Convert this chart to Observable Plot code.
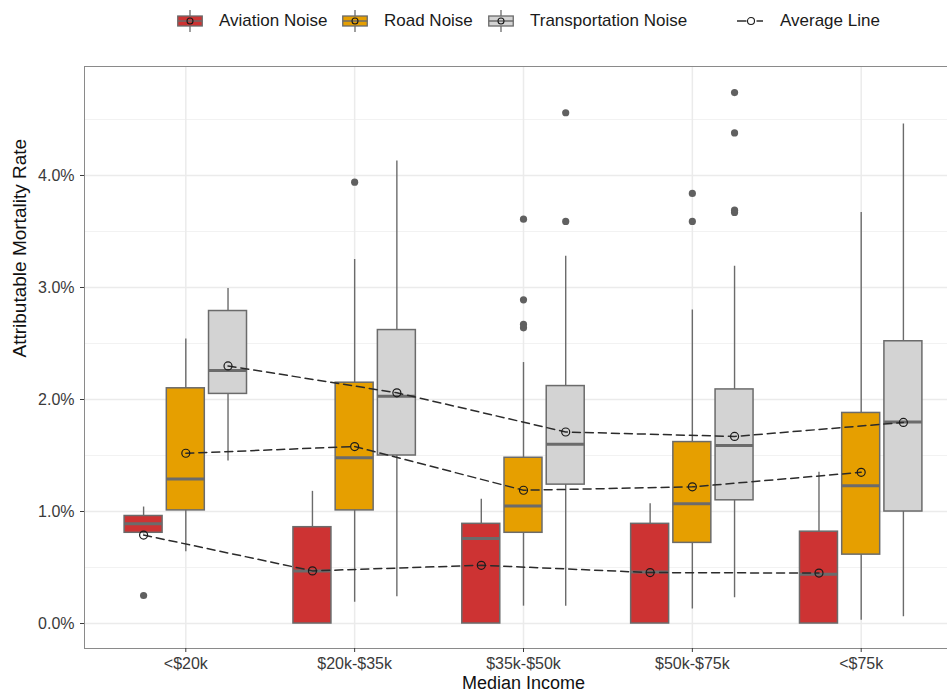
<!DOCTYPE html>
<html>
<head>
<meta charset="utf-8">
<script src="https://cdn.jsdelivr.net/npm/d3@7"></script>
<script src="https://cdn.jsdelivr.net/npm/@observablehq/plot@0.6"></script>
<style>
  html, body { margin: 0; padding: 0; background: #fff; overflow: hidden; }
  #wrap { position: relative; width: 965px; }
  #legend { position: relative; height: 44px; font-family: "Liberation Sans", Arial, Helvetica, sans-serif; font-size: 17px; color: #1a1a1a; }
  #legend .lbl { position: absolute; top: 11px; line-height: 20px; white-space: nowrap; }
  #legend svg { position: absolute; }
</style>
</head>
<body>
<div id="wrap">
  <div id="legend"></div>
  <div id="chart"></div>
</div>
<script>
// ---------- data (in %) ----------
const categories = ["<$20k", "$20k-$35k", "$35k-$50k", "$50k-$75k", "<$75k"];
const seriesNames = ["Aviation Noise", "Road Noise", "Transportation Noise"];
const seriesColors = ["#CD3333", "#E69F00", "#D3D3D3"];

// Aviation Noise
const aviationLow    = [0.80, 0.00, 0.00, 0.00, 0.00];
const aviationQ1     = [0.81, 0.00, 0.00, 0.00, 0.00];
const aviationMedian = [0.89, 0.47, 0.76, 0.46, 0.44];
const aviationQ3     = [0.96, 0.86, 0.89, 0.89, 0.82];
const aviationHigh   = [1.04, 1.18, 1.11, 1.07, 1.35];
const aviationMean   = [0.79, 0.47, 0.52, 0.455, 0.45];
const aviationOutliers = [[0.25], [], [], [], []];

// Road Noise
const roadLow    = [0.64, 0.19, 0.155, 0.13, 0.03];
const roadQ1     = [1.01, 1.01, 0.81, 0.72, 0.615];
const roadMedian = [1.29, 1.48, 1.05, 1.07, 1.23];
const roadQ3     = [2.10, 2.15, 1.48, 1.62, 1.88];
const roadHigh   = [2.54, 3.25, 2.33, 2.80, 3.67];
const roadMean   = [1.52, 1.58, 1.19, 1.22, 1.35];
const roadOutliers = [[], [3.94], [3.61, 2.89, 2.67, 2.64], [3.84, 3.59], []];

// Transportation Noise
const transportLow    = [1.45, 0.24, 0.155, 0.23, 0.06];
const transportQ1     = [2.05, 1.50, 1.24, 1.10, 1.00];
const transportMedian = [2.26, 2.03, 1.60, 1.59, 1.80];
const transportQ3     = [2.79, 2.62, 2.12, 2.09, 2.52];
const transportHigh   = [2.99, 4.13, 3.28, 3.19, 4.46];
const transportMean   = [2.30, 2.06, 1.71, 1.67, 1.795];
const transportOutliers = [[], [], [4.56, 3.59], [4.74, 4.38, 3.69, 3.67], []];

// axis ticks
const yMajorTicks = [0, 1, 2, 3, 4];
const yMinorTicks = [0.5, 1.5, 2.5, 3.5, 4.5];
const legendLineLabel = "Average Line";

// ---------- build tables ----------
const stats = [
  {lo: aviationLow, q1: aviationQ1, med: aviationMedian, q3: aviationQ3, hi: aviationHigh, mean: aviationMean, out: aviationOutliers},
  {lo: roadLow, q1: roadQ1, med: roadMedian, q3: roadQ3, hi: roadHigh, mean: roadMean, out: roadOutliers},
  {lo: transportLow, q1: transportQ1, med: transportMedian, q3: transportQ3, hi: transportHigh, mean: transportMean, out: transportOutliers}
];
const dodge = 0.25, half = 0.1125;
const rows = [];
const outRows = [];
seriesNames.forEach((s, j) => {
  categories.forEach((c, i) => {
    const st = stats[j];
    const x = i + (j - 1) * dodge;
    rows.push({series: s, cat: c, x, lo: st.lo[i], q1: st.q1[i], med: st.med[i], q3: st.q3[i], hi: st.hi[i], mean: st.mean[i]});
    st.out[i].forEach(v => outRows.push({series: s, x, v}));
  });
});

const boxLine = "#6b6b6b";
const font = '"Liberation Sans", Arial, Helvetica, sans-serif';

const chart = Plot.plot({
  width: 965,
  height: 649,
  marginTop: 22,
  marginBottom: 45,
  marginLeft: 84,
  marginRight: 3,
  style: {fontFamily: font, fontSize: "16px", maxWidth: "none", background: "#fff", overflow: "visible"},
  x: {type: "linear", domain: [-0.6, 4.6]},
  y: {domain: [-0.223, 4.973]},
  color: {domain: seriesNames, range: seriesColors},
  marks: [
    Plot.ruleY(yMinorTicks, {stroke: "#F2F2F2", strokeWidth: 1}),
    Plot.ruleY(yMajorTicks, {stroke: "#EBEBEB", strokeWidth: 1.5}),
    Plot.ruleX(categories.map((c, i) => i), {stroke: "#EBEBEB", strokeWidth: 1.5}),
    Plot.ruleX(rows, {x: "x", y1: "lo", y2: "hi", stroke: boxLine, strokeWidth: 1.4}),
    Plot.rect(rows, {x1: d => d.x - half, x2: d => d.x + half, y1: "q1", y2: "q3", fill: "series", stroke: boxLine, strokeWidth: 1.5}),
    Plot.ruleY(rows, {x1: d => d.x - half, x2: d => d.x + half, y: "med", stroke: boxLine, strokeWidth: 3}),
    Plot.dot(outRows, {x: "x", y: "v", r: 3.6, fill: "#606060", stroke: "none"}),
    Plot.line(rows, {x: "x", y: "mean", z: "series", stroke: "#2b2b2b", strokeWidth: 1.5, strokeDasharray: "8,5"}),
    Plot.dot(rows, {x: "x", y: "mean", r: 4, stroke: "#1a1a1a", strokeWidth: 1.2, fill: "none"}),
    Plot.frame({stroke: "#8a8a8a", strokeWidth: 1}),
    Plot.axisX({ticks: [0, 1, 2, 3, 4], tickFormat: i => categories[i], tickSize: 4, tickPadding: 5, fontSize: 16, label: null, color: "#3a3a3a"}),
    Plot.axisY({ticks: yMajorTicks, tickFormat: v => v.toFixed(1) + "%", tickSize: 4, tickPadding: 6, fontSize: 16, label: null, color: "#3a3a3a"}),
    Plot.text(["Median Income"], {text: d => d, frameAnchor: "bottom", lineAnchor: "middle", dy: 35, fontSize: 18, fill: "#111"}),
    Plot.text(["Attributable Mortality Rate"], {text: d => d, frameAnchor: "left", lineAnchor: "middle", dx: -65, rotate: -90, fontSize: 19, fill: "#111"})
  ]
});
document.getElementById("chart").appendChild(chart);

// ---------- legend (HTML above the SVG) ----------
const legend = document.getElementById("legend");
const keyLeft = [177, 342, 488];
const ns = "http://www.w3.org/2000/svg";
function el(tag, attrs, parent) {
  const e = document.createElementNS(ns, tag);
  for (const k in attrs) e.setAttribute(k, attrs[k]);
  parent.appendChild(e);
  return e;
}
seriesNames.forEach((s, j) => {
  const svg = el("svg", {width: 26, height: 22}, legend);
  svg.style.left = keyLeft[j] + "px";
  svg.style.top = "10px";
  el("line", {x1: 13, x2: 13, y1: 0, y2: 22, stroke: boxLine, "stroke-width": 1.3}, svg);
  el("rect", {x: 0.75, y: 6, width: 24.5, height: 10, fill: seriesColors[j], stroke: boxLine, "stroke-width": 1.3}, svg);
  el("line", {x1: 0.75, x2: 25.25, y1: 11, y2: 11, stroke: boxLine, "stroke-width": 1.5}, svg);
  el("circle", {cx: 13, cy: 11, r: 3, fill: "none", stroke: "#1a1a1a", "stroke-width": 1.1}, svg);
  const lbl = document.createElement("span");
  lbl.className = "lbl";
  lbl.style.left = (keyLeft[j] + 42) + "px";
  lbl.textContent = s;
  legend.appendChild(lbl);
});
{
  const svg = el("svg", {width: 27, height: 12}, legend);
  svg.style.left = "737px";
  svg.style.top = "15px";
  el("line", {x1: 0, x2: 9.5, y1: 6, y2: 6, stroke: "#2b2b2b", "stroke-width": 1.5}, svg);
  el("circle", {cx: 14, cy: 6, r: 3.5, fill: "none", stroke: "#1a1a1a", "stroke-width": 1.1}, svg);
  el("line", {x1: 19.5, x2: 26, y1: 6, y2: 6, stroke: "#2b2b2b", "stroke-width": 1.5}, svg);
  const lbl = document.createElement("span");
  lbl.className = "lbl";
  lbl.style.left = "780px";
  lbl.textContent = legendLineLabel;
  legend.appendChild(lbl);
}
</script>
</body>
</html>
